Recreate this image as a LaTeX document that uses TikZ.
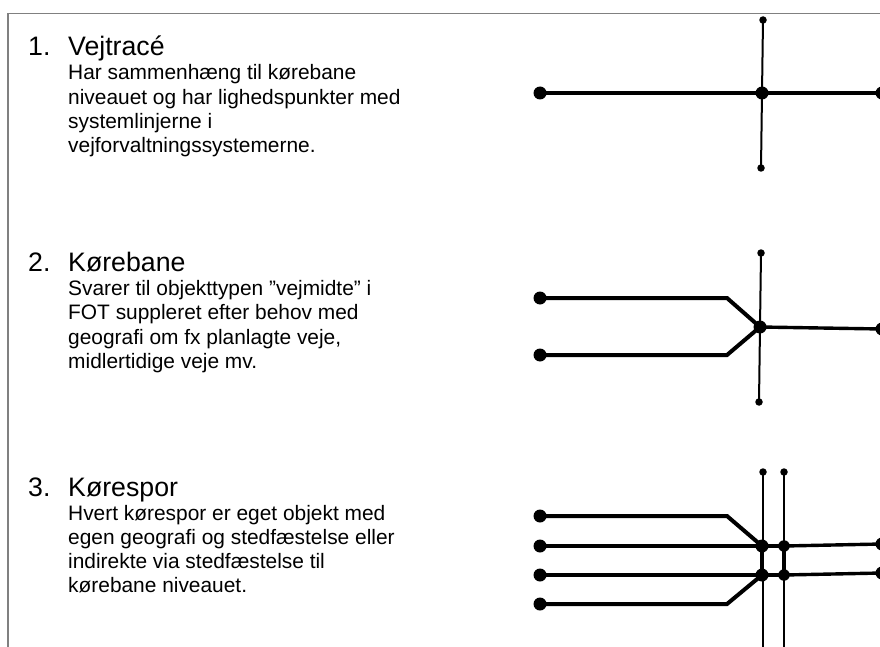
\documentclass[tikz,border=0pt]{standalone}
\usepackage{fontspec}
\setmainfont{Liberation Sans}
\tikzset{
  frameline/.style={draw=black!50, line width=1.5pt},
  road/.style={line width=4pt, line join=miter},
  medroad/.style={line width=3.4pt},
  axis/.style={line width=2pt},
  bigdot/.style={circle, fill=black, inner sep=0pt, minimum size=13pt},
  middot/.style={circle, fill=black, inner sep=0pt, minimum size=11.5pt},
  smalldot/.style={circle, fill=black, inner sep=0pt, minimum size=7.5pt},
  headnum/.style={anchor=base west, inner sep=0pt, font=\fontsize{26.7}{30}\selectfont},
  headtxt/.style={anchor=base west, inner sep=0pt, font=\fontsize{26.7}{30}\selectfont},
  bodytxt/.style={anchor=base west, inner sep=0pt, font=\fontsize{20.9}{24.3}\selectfont},
}
\begin{document}
\begin{tikzpicture}[x=1pt, y=-1pt]
\useasboundingbox (0,0) rectangle (880,647);

% frame
\coordinate (fbl) at (8,650);
\coordinate (ftl) at (8,13.5);
\coordinate (ftr) at (890,13.5);
\draw[frameline] (fbl) -- (ftl) -- (ftr);

% ---------- 1. Vejtrace ----------
\node[headnum] (n1) at (28,56) {1.};
\node[headtxt] (h1) at (68,56) {Vejtracé};
\node[bodytxt] (t11) at (68,80) {Har sammenhæng til kørebane};
\node[bodytxt] (t12) at (68,104.3) {niveauet og har lighedspunkter med};
\node[bodytxt] (t13) at (68,128.6) {systemlinjerne i};
\node[bodytxt] (t14) at (68,152.9) {vejforvaltningssystemerne.};

\node[bigdot] (a1) at (540,93) {};
\node[bigdot] (aj) at (762,93) {};
\node[bigdot] (ae) at (882,93) {};
\node[smalldot] (at) at (763,20) {};
\node[smalldot] (ab) at (761,168) {};
\draw[axis] (at.center) -- (aj.center) -- (ab.center);
\draw[road] (a1.center) -- (aj.center) -- (ae.center);

% ---------- 2. Korebane ----------
\node[headnum] (n2) at (28,271) {2.};
\node[headtxt] (h2) at (68,271) {Kørebane};
\node[bodytxt] (t21) at (68,295.5) {Svarer til objekttypen ”vejmidte” i};
\node[bodytxt] (t22) at (68,319.8) {FOT suppleret efter behov med};
\node[bodytxt] (t23) at (68,344.1) {geografi om fx planlagte veje,};
\node[bodytxt] (t24) at (68,368.4) {midlertidige veje mv.};

\node[bigdot] (b1) at (540,298) {};
\node[bigdot] (b2) at (540,355) {};
\coordinate (bk1) at (727,298);
\coordinate (bk2) at (727,355);
\node[bigdot] (bj) at (760,327) {};
\node[bigdot] (be) at (882,329) {};
\node[smalldot] (bt) at (761,253) {};
\node[smalldot] (bb) at (759,402) {};
\draw[axis] (bt.center) -- (bj.center) -- (bb.center);
\draw[road] (b1.center) -- (bk1) -- (bj.center);
\draw[road] (b2.center) -- (bk2) -- (bj.center);
\draw[medroad] (bj.center) -- (be.center);

% ---------- 3. Korespor ----------
\node[headnum] (n3) at (28,496) {3.};
\node[headtxt] (h3) at (68,496) {Kørespor};
\node[bodytxt] (t31) at (68,520) {Hvert kørespor er eget objekt med};
\node[bodytxt] (t32) at (68,544.3) {egen geografi og stedfæstelse eller};
\node[bodytxt] (t33) at (68,568.6) {indirekte via stedfæstelse til};
\node[bodytxt] (t34) at (68,592.9) {kørebane niveauet.};

\node[bigdot] (c1) at (540,516) {};
\node[bigdot] (c2) at (540,546) {};
\node[bigdot] (c3) at (540,575) {};
\node[bigdot] (c4) at (540,604) {};
\coordinate (ck1) at (727,516);
\coordinate (ck4) at (727,604);
\node[bigdot] (cj1) at (762,546) {};
\node[middot] (cj2) at (784,546) {};
\node[bigdot] (cj3) at (762,575) {};
\node[middot] (cj4) at (784,575) {};
\node[bigdot] (ce1) at (882,544) {};
\node[bigdot] (ce2) at (882,573) {};
\node[smalldot] (ct1) at (763,472) {};
\node[smalldot] (ct2) at (784,472) {};
\coordinate (cb1) at (763,652);
\coordinate (cb2) at (784,652);
\draw[axis] (ct1.center) -- (cb1);
\draw[axis] (ct2.center) -- (cb2);
\draw[road] (c1.center) -- (ck1) -- (cj1.center);
\draw[road] (c2.center) -- (cj1.center);
\draw[road] (c3.center) -- (cj3.center);
\draw[road] (c4.center) -- (ck4) -- (cj3.center);
\draw[road] (cj1.center) -- (cj3.center);
\draw[road] (cj2.center) -- (cj4.center);
\draw[medroad] (cj1.center) -- (cj2.center);
\draw[medroad] (cj3.center) -- (cj4.center);
\draw[medroad] (cj2.center) -- (ce1.center);
\draw[medroad] (cj4.center) -- (ce2.center);
\end{tikzpicture}
\end{document}
